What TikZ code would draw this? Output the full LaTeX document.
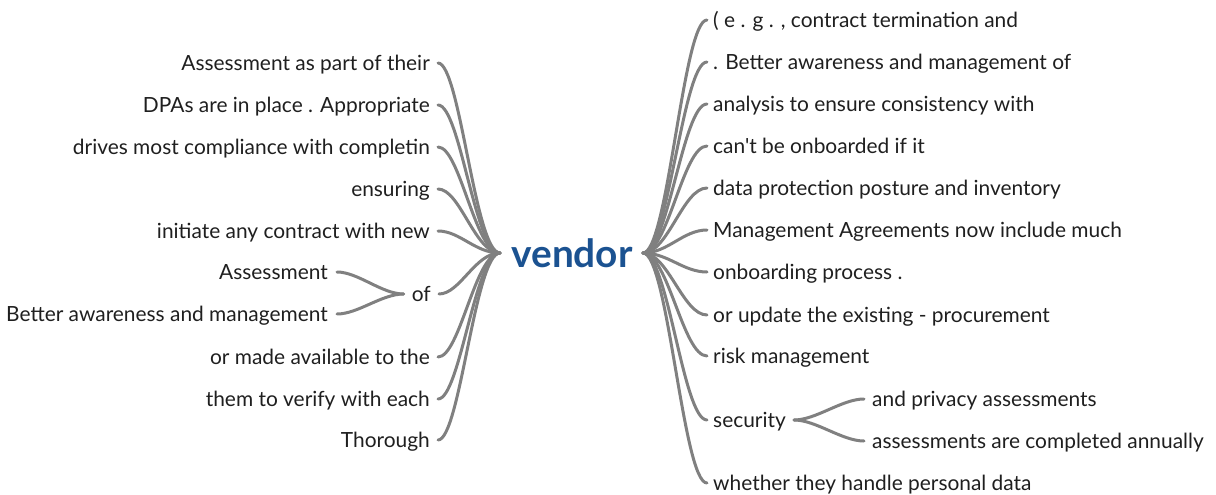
\documentclass[tikz,border=0pt]{standalone}
\usepackage{fontspec}
\setmainfont{Lato}[Ligatures=TeXOff]
\usetikzlibrary{calc}
\definecolor{hubblue}{RGB}{27,82,145}
\definecolor{linegray}{RGB}{128,128,128}
\tikzset{
  leaf/.style={inner sep=0pt, font=\fontsize{20.9}{24}\selectfont, text height=17pt, text depth=2pt, text=black!88},
  lleaf/.style={leaf, anchor=east},
  rleaf/.style={leaf, anchor=west},
  hub/.style={inner sep=0pt, font=\fontsize{38.8}{44}\selectfont\bfseries, text=hubblue},
  conn/.style={draw=linegray, line width=3pt, line cap=round},
}
\begin{document}
\begin{tikzpicture}[x=1pt,y=-1pt]
\useasboundingbox (0,0) rectangle (1216,495);
\node[hub] (v) at (572,253) {vendor};
\coordinate (hl) at (500,253);
\coordinate (hr) at (643,253);
% left leaves
\node[lleaf] (l1) at (430,63) {Assessment as part of their};
\node[lleaf] (l2) at (430,105) {DPAs are in place . Appropriate};
\node[lleaf] (l3) at (430,147) {drives most compliance with completin};
\node[lleaf] (l4) at (430,189) {ensuring};
\node[lleaf] (l5) at (430,231) {initiate any contract with new};
\node[lleaf] (l6) at (431,294) {of};
\node[lleaf] (l7) at (430,357) {or made available to the};
\node[lleaf] (l8) at (430,399) {them to verify with each};
\node[lleaf] (l9) at (430,440) {Thorough};
\node[lleaf] (l6a) at (328,272) {Assessment};
\node[lleaf] (l6b) at (328,314) {Better awareness and management};
% right leaves
\node[rleaf] (r1) at (713,20) {( e . g . , contract termination and};
\node[rleaf] (r2) at (713,62) {. Better awareness and management of};
\node[rleaf] (r3) at (713,104) {analysis to ensure consistency with};
\node[rleaf] (r4) at (713,146) {can't be onboarded if it};
\node[rleaf] (r5) at (713,188) {data protection posture and inventory};
\node[rleaf] (r6) at (713,230) {Management Agreements now include much};
\node[rleaf] (r7) at (713,272) {onboarding process .};
\node[rleaf] (r8) at (713,315) {or update the existing - procurement};
\node[rleaf] (r9) at (713,356) {risk management};
\node[rleaf] (r10) at (713,420) {security};
\node[rleaf] (r11) at (713,483) {whether they handle personal data};
\node[rleaf] (r10a) at (872,399) {and privacy assessments};
\node[rleaf] (r10b) at (872,441) {assessments are completed annually};
% left connectors
\foreach \n in {l1,l2,l3,l4,l5,l6,l7,l8,l9}{
  \draw[conn] (hl) .. controls ($(hl)+(-25,0)$) and ($(\n.east -| hl)+(-40,0)$)
    .. ([xshift=8pt]\n.east);
}
\foreach \n in {r1,r2,r3,r4,r5,r6,r7,r8,r9,r10,r11}{
  \draw[conn] (hr) .. controls ($(hr)+(25,0)$) and ($(\n.west -| hr)+(40,0)$)
    .. ([xshift=-6pt]\n.west);
}
% sub branches
\coordinate (of) at ($(l6.west)+(-8,0)$);
\foreach \n in {l6a,l6b}{
  \draw[conn] (of) .. controls ($(of)+(-22,0)$) and ($(\n.east)+(30,0)$) .. ([xshift=9pt]\n.east);
}
\coordinate (sec) at ($(r10.east)+(8,0)$);
\foreach \n in {r10a,r10b}{
  \draw[conn] (sec) .. controls ($(sec)+(22,0)$) and ($(\n.west)+(-30,0)$) .. ([xshift=-8pt]\n.west);
}
\end{tikzpicture}
\end{document}
